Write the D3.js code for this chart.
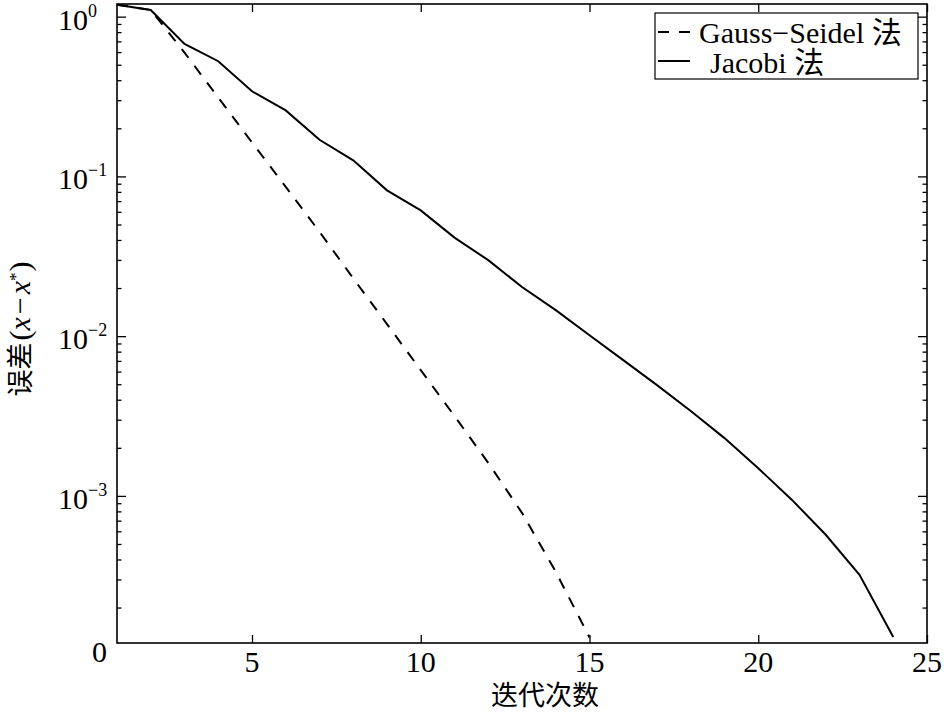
<!DOCTYPE html>
<html><head><meta charset="utf-8">
<script src="https://cdn.jsdelivr.net/npm/d3@7"></script>
<style>body{margin:0;background:#fff}</style>
</head><body>
<svg id="chart" width="944" height="714"></svg>
<script>
// ---- data ----
const gsIter = [1,2,3,4,5,6,7,8,9,10,11,12,13,14,15];
const gsError = [1.189,1.101,0.596,0.312,0.163,0.0860,0.0450,0.0230,0.0119,0.00613,0.00316,0.00161,0.000783,0.000335,0.000130];
const jacobiIter = [1,2,3,4,5,6,7,8,9,10,11,12,13,14,15,16,17,18,19,20,21,22,23,24];
const jacobiError = [1.189,1.101,0.675,0.526,0.341,0.259,0.1695,0.126,0.0818,0.0613,0.0414,0.0299,0.0203,0.01454,0.01014,0.00708,0.00494,0.00340,0.00230,0.00149,0.000944,0.000571,0.000321,0.000131];
const xTicks = [5,10,15,20,25];
const yTicks = [1,0.1,0.01,0.001];
const yExponents = ["0","\u22121","\u22122","\u22123"];
const yBottomLabel = "0";
const xDomain = [1,25];
const yDomain = [1.2e-4,1.2];
const legendLabels = ["Gauss\u2212Seidel \u6cd5","Jacobi \u6cd5"];
const xTitle = "\u8fed\u4ee3\u6b21\u6570";

// ---- layout ----
const L = 117, R = 927, T = 4, B = 643;
const serif = "Liberation Serif, Times New Roman, serif, Noto Sans CJK SC";
const cjk = "Noto Sans CJK SC, sans-serif";
const svg = d3.select("#chart");
const x = d3.scaleLinear().domain(xDomain).range([L,R]);
const y = d3.scaleLog().domain(yDomain).range([B,T]);

// minor log ticks
const minor = [];
for (let e = -4; e <= 0; e++) for (let m = 2; m <= 9; m++) {
  const v = m * Math.pow(10, e);
  if (v > yDomain[0] && v < yDomain[1]) minor.push(v);
}

function styleAxis(g){
  g.select(".domain").remove();
  g.selectAll("line").attr("stroke","#000").attr("stroke-width",1.3);
  g.selectAll("text").remove();
}
svg.append("g").attr("transform",`translate(0,${B})`)
  .call(d3.axisBottom(x).tickValues(xTicks).tickSizeInner(-8).tickSizeOuter(0)).call(styleAxis);
svg.append("g").attr("transform",`translate(0,${T})`)
  .call(d3.axisTop(x).tickValues(xTicks).tickSizeInner(-8).tickSizeOuter(0)).call(styleAxis);
svg.append("g").attr("transform",`translate(${L},0)`)
  .call(d3.axisLeft(y).tickValues(yTicks).tickSizeInner(-9).tickSizeOuter(0)).call(styleAxis);
svg.append("g").attr("transform",`translate(${R},0)`)
  .call(d3.axisRight(y).tickValues(yTicks).tickSizeInner(-9).tickSizeOuter(0)).call(styleAxis);
svg.append("g").attr("transform",`translate(${L},0)`)
  .call(d3.axisLeft(y).tickValues(minor).tickSizeInner(-4.5).tickSizeOuter(0)).call(styleAxis);
svg.append("g").attr("transform",`translate(${R},0)`)
  .call(d3.axisRight(y).tickValues(minor).tickSizeInner(-4.5).tickSizeOuter(0)).call(styleAxis);

// frame
svg.append("rect").attr("x",L).attr("y",T).attr("width",R-L).attr("height",B-T)
  .attr("fill","none").attr("stroke","#000").attr("stroke-width",1.6);

// x tick labels
svg.append("g").selectAll("text").data(xTicks).join("text")
  .attr("x",d=>x(d)).attr("y",B+29).attr("text-anchor","middle")
  .attr("font-family",serif).attr("font-size",30).text(d=>d);

// y tick labels
const yl = svg.append("g").selectAll("text").data(yTicks).join("text")
  .attr("x",58).attr("y",d=>y(d)+13)
  .attr("font-family",serif).attr("font-size",30);
yl.append("tspan").text("10");
yl.append("tspan").attr("dy",-13).attr("font-size",18).text((d,i)=>yExponents[i]);
svg.append("text").attr("x",107).attr("y",B+19).attr("text-anchor","end")
  .attr("font-family",serif).attr("font-size",30).text(yBottomLabel);

// lines
const line = d3.line().x(d=>x(d[0])).y(d=>y(d[1]));
svg.append("path").datum(jacobiIter.map((d,i)=>[d,jacobiError[i]]))
  .attr("d",line).attr("fill","none").attr("stroke","#000").attr("stroke-width",2);
svg.append("path").datum(gsIter.map((d,i)=>[d,gsError[i]]))
  .attr("d",line).attr("fill","none").attr("stroke","#000").attr("stroke-width",2)
  .attr("stroke-dasharray","11,10");

// legend
const lg = svg.append("g");
lg.append("rect").attr("x",655).attr("y",13).attr("width",263).attr("height",66)
  .attr("fill","#fff").attr("stroke","#000").attr("stroke-width",1.2);
lg.append("line").attr("x1",658).attr("x2",694).attr("y1",32).attr("y2",32)
  .attr("stroke","#000").attr("stroke-width",2).attr("stroke-dasharray","11,10");
lg.append("line").attr("x1",658).attr("x2",690).attr("y1",61).attr("y2",61)
  .attr("stroke","#000").attr("stroke-width",2);
lg.append("text").attr("x",699).attr("y",43).attr("font-family",serif).attr("font-size",30)
  .text(legendLabels[0]);
lg.append("text").attr("x",710).attr("y",73).attr("font-family",serif).attr("font-size",30)
  .text(legendLabels[1]);

// x title
svg.append("text").attr("x",545).attr("y",705).attr("text-anchor","middle")
  .attr("font-family",cjk).attr("font-size",27).text(xTitle);

// y title
const yt = svg.append("text").attr("transform","translate(30,329) rotate(-90)")
  .attr("text-anchor","middle").attr("font-family",serif).attr("font-size",30);
yt.append("tspan").attr("font-family",cjk).attr("font-size",27).text("\u8bef\u5dee");
yt.append("tspan").attr("dx",2).text("(");
yt.append("tspan").attr("font-style","italic").text("x");
yt.append("tspan").attr("dx",3).text("\u2212");
yt.append("tspan").attr("dx",3).attr("font-style","italic").text("x");
yt.append("tspan").attr("dy",-9).attr("font-size",17).text("*");
yt.append("tspan").attr("dy",9).attr("dx",1).text(")");
</script>
</body></html>
